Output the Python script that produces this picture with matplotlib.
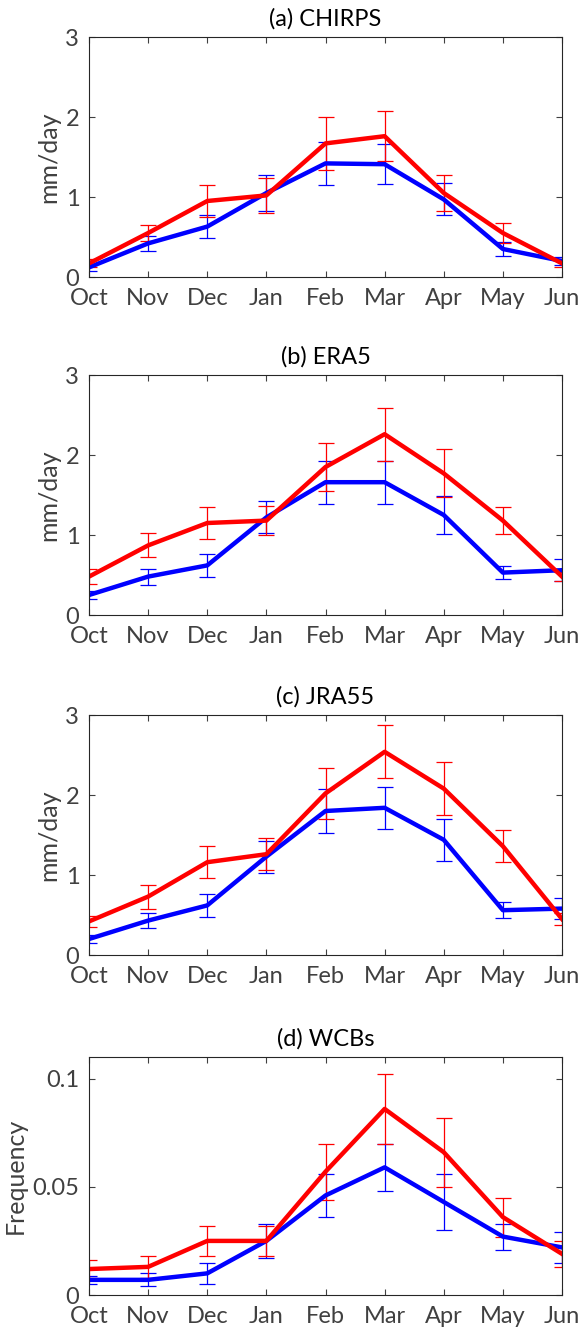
import matplotlib
matplotlib.use('Agg')
import matplotlib.pyplot as plt
import numpy as np

plt.rcParams['font.family'] = ['Lato', 'DejaVu Sans']

months = ['Oct', 'Nov', 'Dec', 'Jan', 'Feb', 'Mar', 'Apr', 'May', 'Jun']
titles = ['(a) CHIRPS', '(b) ERA5', '(c) JRA55', '(d) WCBs']
ylabels = ['mm/day', 'mm/day', 'mm/day', 'Frequency']

red_vals = [
    [0.17, 0.55, 0.95, 1.02, 1.67, 1.76, 1.05, 0.55, 0.17],
    [0.48, 0.87, 1.15, 1.18, 1.85, 2.26, 1.77, 1.18, 0.48],
    [0.42, 0.73, 1.16, 1.26, 2.02, 2.54, 2.08, 1.36, 0.45],
    [0.012, 0.013, 0.025, 0.025, 0.057, 0.086, 0.066, 0.036, 0.019],
]
red_err = [
    [0.05, 0.1, 0.2, 0.22, 0.33, 0.31, 0.23, 0.13, 0.05],
    [0.09, 0.15, 0.2, 0.18, 0.3, 0.33, 0.3, 0.17, 0.06],
    [0.07, 0.15, 0.2, 0.2, 0.32, 0.33, 0.33, 0.2, 0.08],
    [0.004, 0.005, 0.007, 0.007, 0.013, 0.016, 0.016, 0.009, 0.006],
]
blue_vals = [
    [0.12, 0.42, 0.63, 1.05, 1.42, 1.41, 0.97, 0.35, 0.2],
    [0.25, 0.48, 0.62, 1.22, 1.66, 1.66, 1.25, 0.53, 0.56],
    [0.2, 0.43, 0.62, 1.23, 1.8, 1.84, 1.44, 0.56, 0.58],
    [0.007, 0.007, 0.010, 0.025, 0.046, 0.059, 0.043, 0.027, 0.022],
]
blue_err = [
    [0.04, 0.09, 0.14, 0.23, 0.27, 0.25, 0.2, 0.09, 0.05],
    [0.05, 0.1, 0.14, 0.2, 0.27, 0.27, 0.24, 0.08, 0.14],
    [0.05, 0.09, 0.14, 0.2, 0.28, 0.26, 0.26, 0.1, 0.13],
    [0.002, 0.003, 0.005, 0.008, 0.01, 0.011, 0.013, 0.006, 0.007],
]

fig = plt.figure(figsize=(5.82, 13.33), dpi=100)
left = 89 / 582
width = 473 / 582
tops = [37, 375, 715, 1057]
bottoms = [277, 615, 955, 1295]
x = np.arange(len(months))

for i in range(4):
    ax = fig.add_axes([left, 1 - bottoms[i] / 1333, width, (bottoms[i] - tops[i]) / 1333])
    for vals, err, c in [(blue_vals[i], blue_err[i], '#0000ff'), (red_vals[i], red_err[i], '#ff0000')]:
        ax.errorbar(x, vals, yerr=err, color=c, lw=3.2, elinewidth=0.9, capsize=6, capthick=0.9)
    ax.set_xlim(0, 8)
    ax.set_xticks(x)
    ax.set_xticklabels(months)
    if i < 3:
        ax.set_ylim(0, 3)
        ax.set_yticks([0, 1, 2, 3])
    else:
        ax.set_ylim(0, 0.11)
        ax.set_yticks([0, 0.05, 0.1])
        ax.set_yticklabels(['0', '0.05', '0.1'])
    ax.set_title(titles[i], fontsize=17, pad=8)
    ax.set_ylabel(ylabels[i], fontsize=18, color='#404040', labelpad=4)
    for s in ax.spines.values():
        s.set_color('#262626')
    ax.tick_params(direction='in', top=True, right=True, labelsize=17,
                   colors='#404040', length=4)
    ax.tick_params(axis='x', pad=8)
    ax.tick_params(axis='y', pad=7)

fig.savefig('out.png', dpi=100)
